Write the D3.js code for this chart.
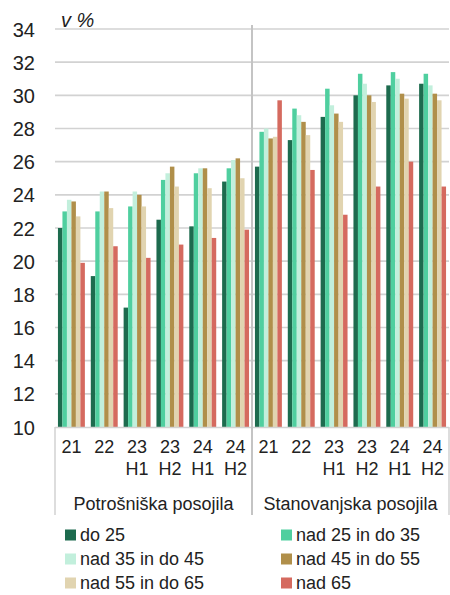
<!DOCTYPE html>
<html>
<head>
<meta charset="utf-8">
<script src="https://cdn.jsdelivr.net/npm/d3@7"></script>
<style>
  html, body { margin: 0; padding: 0; background: #fff; }
  svg { display: block; font-family: "Liberation Sans", Arial, sans-serif; }
</style>
</head>
<body>
<svg id="chart" width="450" height="595"></svg>
<script>
// Period labels (two lines each) and the two loan types
const periods = [["21"], ["22"], ["23", "H1"], ["23", "H2"], ["24", "H1"], ["24", "H2"]];
const loanTypes = ["Potrošniška posojila", "Stanovanjska posojila"];
const ageGroups = ["do 25", "nad 25 in do 35", "nad 35 in do 45", "nad 45 in do 55", "nad 55 in do 65", "nad 65"];
const colors = ["#1d6b4e", "#4fcf9f", "#c2efdc", "#b08f4a", "#e1d4b0", "#d56a5f"];
const yTicks = [10, 12, 14, 16, 18, 20, 22, 24, 26, 28, 30, 32, 34];

// Shares in % per age group, six periods for consumer loans then six for housing loans
const do25      = [22.0, 19.1, 17.2, 22.5, 22.1, 24.8,  25.7, 27.3, 28.7, 30.0, 30.6, 30.7];
const nad25do35 = [23.0, 23.0, 23.3, 24.9, 25.3, 25.6,  27.8, 29.2, 30.4, 31.3, 31.4, 31.3];
const nad35do45 = [23.7, 24.2, 24.2, 25.3, 25.6, 26.1,  28.0, 28.8, 29.4, 30.7, 31.0, 30.6];
const nad45do55 = [23.6, 24.2, 24.0, 25.7, 25.6, 26.2,  27.4, 28.4, 28.9, 30.0, 30.1, 30.1];
const nad55do65 = [22.7, 23.2, 23.3, 24.5, 24.4, 25.0,  27.5, 27.6, 28.4, 29.6, 29.8, 29.7];
const nad65     = [19.9, 20.9, 20.2, 21.0, 21.4, 21.9,  29.7, 25.5, 22.8, 24.5, 26.0, 24.5];
const series = [do25, nad25do35, nad35do45, nad45do55, nad55do65, nad65];

const svg = d3.select("#chart");
const plotLeft = 55, plotRight = 449, plotTop = 29, plotBottom = 427;

const groups = d3.range(12);
const x = d3.scaleBand().domain(groups).range([plotLeft, plotRight]).paddingInner(0.18).paddingOuter(0.09);
const xInner = d3.scaleBand().domain(d3.range(ageGroups.length)).range([0, x.bandwidth()]);
const y = d3.scaleLinear().domain([10, 34]).range([plotBottom, plotTop]);

// Horizontal grid
svg.append("g").selectAll("line").data(yTicks.slice(1)).join("line")
  .attr("x1", plotLeft).attr("x2", plotRight)
  .attr("y1", d => y(d)).attr("y2", d => y(d))
  .attr("stroke", "#d2d2d2").attr("stroke-width", 1.6);

// Y axis labels
const yAxis = d3.axisLeft(y).tickValues(yTicks).tickSize(0).tickPadding(20);
const gy = svg.append("g").attr("transform", `translate(${plotLeft},0)`).call(yAxis);
gy.select(".domain").remove();
gy.selectAll("text").attr("font-size", 20).attr("fill", "#222")
  .attr("font-family", "'Liberation Sans', Arial, sans-serif").attr("dy", "0.35em");

// Bars
const flat = [];
series.forEach((vals, s) => vals.forEach((v, g) => flat.push({ s, g, v })));
svg.append("g").selectAll("rect").data(flat).join("rect")
  .attr("x", d => x(d.g) + xInner(d.s))
  .attr("width", xInner.bandwidth())
  .attr("y", d => y(d.v))
  .attr("height", d => y(10) - y(d.v))
  .attr("fill", d => colors[d.s]);

// Baseline
svg.append("line").attr("x1", plotLeft).attr("x2", plotRight)
  .attr("y1", plotBottom + 0.5).attr("y2", plotBottom + 0.5)
  .attr("stroke", "#d2d2d2").attr("stroke-width", 1.5);

// Separators between loan types
const mid = x(6) - x.step() * x.paddingInner() / 2;
svg.append("line").attr("x1", mid).attr("x2", mid).attr("y1", 25).attr("y2", 515)
  .attr("stroke", "#c4c4c4").attr("stroke-width", 2);
[plotLeft, plotRight].forEach(px => {
  svg.append("line").attr("x1", px).attr("x2", px).attr("y1", plotBottom).attr("y2", 515)
    .attr("stroke", "#d2d2d2").attr("stroke-width", 1.5);
});

// Period labels
const xl = svg.append("g").attr("font-size", 18).attr("fill", "#222").attr("text-anchor", "middle");
groups.forEach(g => {
  const p = periods[g % 6];
  p.forEach((line, i) => {
    xl.append("text").attr("x", x(g) + x.bandwidth() / 2).attr("y", 453 + i * 22).text(line);
  });
});

// Loan type labels
loanTypes.forEach((t, i) => {
  const cx = i === 0 ? (plotLeft + mid) / 2 : (mid + plotRight) / 2;
  svg.append("text").attr("x", cx).attr("y", 510).attr("font-size", 18)
    .attr("fill", "#222").attr("text-anchor", "middle").text(t);
});

// Unit label
svg.append("text").attr("x", 61).attr("y", 27).attr("font-size", 20)
  .attr("font-style", "italic").attr("fill", "#222").text("v %");

// Legend
const lg = svg.append("g");
ageGroups.forEach((name, i) => {
  const col = i % 2, row = Math.floor(i / 2);
  const lx = col === 0 ? 65 : 281;
  const ly = 535 + row * 24;
  lg.append("rect").attr("x", lx).attr("y", ly - 5.5).attr("width", 11).attr("height", 11).attr("fill", colors[i]);
  lg.append("text").attr("x", lx + 15).attr("y", ly).attr("dy", "0.35em")
    .attr("font-size", 18).attr("fill", "#222").text(name);
});
</script>
</body>
</html>
